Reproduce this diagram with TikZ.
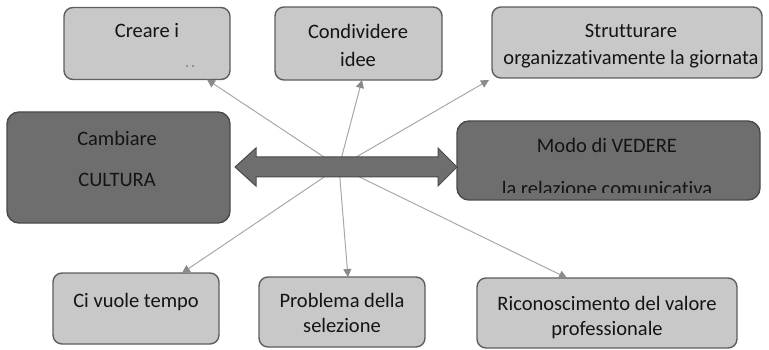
\documentclass[tikz,border=0pt]{standalone}
\usepackage{fontspec}
\setmainfont{Carlito}[Ligatures={NoCommon}]
\usetikzlibrary{arrows.meta,calc}
\definecolor{lightfill}{HTML}{C8C8C8}
\definecolor{lightdraw}{HTML}{5E5E5E}
\definecolor{darkfill}{HTML}{6E6E6E}
\definecolor{darkdraw}{HTML}{4A4A4A}
\definecolor{linegray}{HTML}{A8A8A8}
\definecolor{tipgray}{HTML}{8A8A8A}
\definecolor{txtcol}{HTML}{141414}
\tikzset{
  lbox/.style={draw=lightdraw, fill=lightfill, line width=1.4pt, rounded corners=9pt, inner sep=0pt, outer sep=0pt},
  dbox/.style={draw=darkdraw, fill=darkfill, line width=1.4pt, rounded corners=12pt, inner sep=0pt, outer sep=0pt},
  txt/.style={anchor=base, inner sep=0pt, text=txtcol, font=\fontsize{20.5}{24}\selectfont},
  conn/.style={draw=linegray, line width=1pt, -{Triangle[length=8pt,width=8pt,color=tipgray]}},
  dblarrow/.style={fill=darkfill, draw=darkdraw, line width=1pt, line join=miter}
}
\begin{document}
\begin{tikzpicture}[x=1pt,y=-1pt]
\useasboundingbox (0,0) rectangle (769,350);
% center of the star
\coordinate (C) at (339,167);

% top boxes
\node[lbox, minimum width=166pt, minimum height=72pt] (creare) at (147,43.5) {};
\node[lbox, minimum width=167pt, minimum height=73pt] (condiv) at (358.5,43.5) {};
\node[lbox, minimum width=270pt, minimum height=71pt] (strutt) at (627,42.5) {};
% side boxes
\node[dbox, minimum width=223pt, minimum height=111pt] (cambiare) at (118.5,167.5) {};
\node[dbox, minimum width=303pt, minimum height=79pt] (modo) at (608.5,160.5) {};
% bottom boxes
\node[lbox, minimum width=166pt, minimum height=71pt] (tempo) at (136,308.5) {};
\node[lbox, minimum width=166pt, minimum height=70pt] (problema) at (342,312) {};
\node[lbox, minimum width=260pt, minimum height=70pt] (ricon) at (607,313) {};

% connectors (drawn under the double arrow)
\draw[conn] (C) -- ([xshift=143pt]creare.south west);
\draw[conn] (C) -- ([xshift=87pt]condiv.south west);
\draw[conn] (C) -- ([xshift=-3pt,yshift=-2pt]strutt.south west);
\draw[conn] (C) -- ([xshift=129pt]tempo.north west);
\draw[conn] (C) -- ([xshift=89pt]problema.north west);
\draw[conn] (C) -- ([xshift=90pt]ricon.north west);

% double arrow between the two dark boxes
\coordinate (L) at ([xshift=5pt]cambiare.east |- C);
\coordinate (R) at (modo.west |- C);
\draw[dblarrow] (L) -- ++(21,-19) -- ++(0,9) -- ($(R)+(-19,-10)$) -- ++(0,-9) -- (R)
  -- ++(-19,19) -- ++(0,-9) -- ($(L)+(21,10)$) -- ++(0,9) -- cycle;

% texts
\node[txt] (t1) at (147,38) {Creare i};
\fill[txtcol!70] (187,66) circle (0.9pt) (193,66) circle (0.9pt);
\node[txt] (t2a) at (358,38.5) {Condividere};
\node[txt] (t2b) at (358,67) {idee};
\node[txt] (t3a) at (631,37.5) {Strutturare};
\node[txt] (t3b) at (631,65) {organizzativamente la giornata};
\node[txt] (t4a) at (117,146) {Cambiare};
\node[txt] (t4b) at (117,186) {CULTURA};
\node[txt] (t5a) at (607,153) {Modo di VEDERE};
\begin{scope}
  \clip (460,121) rectangle (758,193);
  \node[txt] (t5b) at (607,196) {la relazione comunicativa};
\end{scope}
\node[txt] (t6) at (136,307) {Ci vuole tempo};
\node[txt] (t7a) at (342,307) {Problema della};
\node[txt] (t7b) at (342,332) {selezione};
\node[txt] (t8a) at (607,310) {Riconoscimento del valore};
\node[txt] (t8b) at (607,335) {professionale};
\end{tikzpicture}
\end{document}
